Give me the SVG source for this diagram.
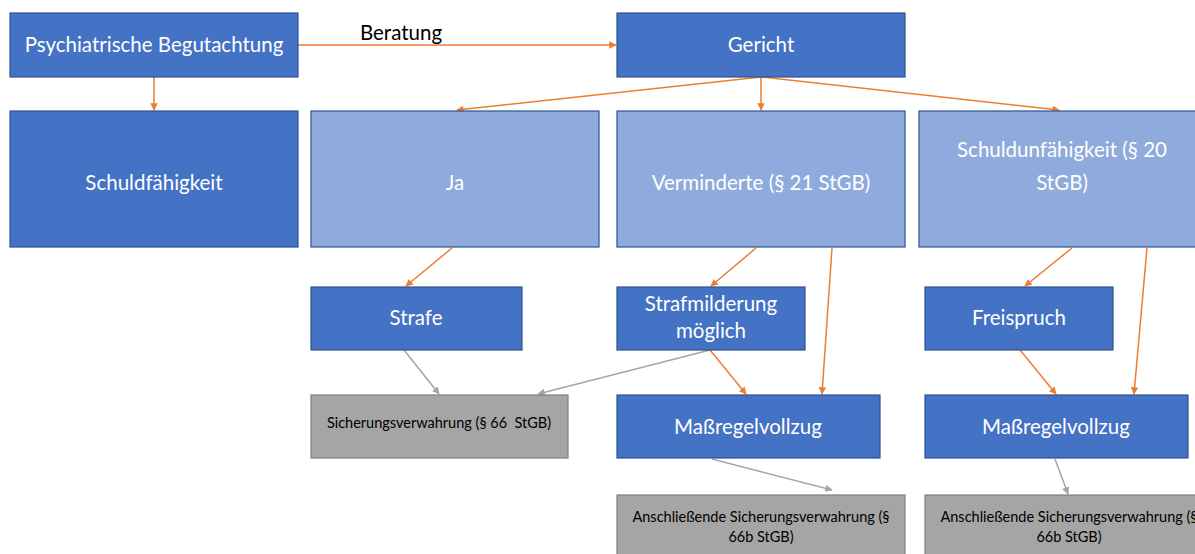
<svg xmlns="http://www.w3.org/2000/svg" width="1195" height="554" viewBox="0 0 1195 554">
<defs>
<style>
.dk{fill:#4472C4;stroke:#2F528F;stroke-width:1.2}
.lt{fill:#8FAADC;stroke:#2F528F;stroke-width:1.2}
.gr{fill:#A5A5A5;stroke:#7F7F7F;stroke-width:1.2}
.t{font-family:Lato,"Open Sans",sans-serif;font-size:20.5px;fill:#FFFFFF;text-anchor:middle}
.s{font-family:Lato,"Open Sans",sans-serif;font-size:14.5px;fill:#000000;text-anchor:middle}
.o{stroke:#ED7D31;stroke-width:1.5;fill:none;marker-end:url(#ao)}
.g{stroke:#A5A5A5;stroke-width:1.5;fill:none;marker-end:url(#ag)}
</style>
<marker id="ao" viewBox="0 0 10 10" refX="9" refY="5" markerWidth="5" markerHeight="5" orient="auto"><path d="M0,0L10,5L0,10z" fill="#ED7D31"/></marker>
<marker id="ag" viewBox="0 0 10 10" refX="9" refY="5" markerWidth="5" markerHeight="5" orient="auto"><path d="M0,0L10,5L0,10z" fill="#A5A5A5"/></marker>
</defs>
<rect width="1195" height="554" fill="#FFFFFF"/>
<g id="connectors">
<line class="o" x1="298" y1="45" x2="616" y2="45"/>
<text x="401" y="40" font-family="Lato,'Open Sans',sans-serif" font-size="20.5" fill="#000" text-anchor="middle">Beratung</text>
<line class="o" x1="154" y1="77" x2="154" y2="110"/>
<line class="o" x1="761" y1="77" x2="457" y2="110"/>
<line class="o" x1="761" y1="77" x2="761" y2="110"/>
<line class="o" x1="761" y1="77" x2="1059" y2="110"/>
<line class="o" x1="452" y1="248" x2="406" y2="286"/>
<line class="o" x1="756" y1="248" x2="711" y2="286"/>
<line class="o" x1="832" y1="248" x2="822" y2="394"/>
<line class="o" x1="1072" y1="248" x2="1025" y2="286"/>
<line class="o" x1="1147" y1="248" x2="1134" y2="394"/>
<line class="o" x1="710" y1="350" x2="746" y2="394"/>
<line class="o" x1="1020" y1="350" x2="1056" y2="394"/>
<line class="g" x1="404" y1="350" x2="439" y2="394"/>
<line class="g" x1="710" y1="350" x2="538" y2="394"/>
<line class="g" x1="712" y1="459" x2="832" y2="490"/>
<line class="g" x1="1055" y1="459" x2="1068" y2="494"/>
</g>
<g id="psych"><rect class="dk" x="10" y="13" width="288" height="64"/><text class="t" x="154" y="52">Psychiatrische Begutachtung</text></g>
<g id="gericht"><rect class="dk" x="617" y="13" width="288" height="64"/><text class="t" x="761" y="52">Gericht</text></g>
<g id="schuldfaehigkeit"><rect class="dk" x="10" y="111" width="288" height="136"/><text class="t" x="154" y="190">Schuldfähigkeit</text></g>
<g id="ja"><rect class="lt" x="311" y="111" width="288" height="136"/><text class="t" x="455" y="190">Ja</text></g>
<g id="verminderte"><rect class="lt" x="617" y="111" width="288" height="136"/><text class="t" x="761" y="190">Verminderte (§ 21 StGB)</text></g>
<g id="schuldunfaehigkeit"><rect class="lt" x="919" y="111" width="288" height="136"/><text class="t" x="1062" y="157">Schuldunfähigkeit (§ 20</text><text class="t" x="1062" y="190">StGB)</text></g>
<g id="strafe"><rect class="dk" x="311" y="287" width="211" height="63"/><text class="t" x="416" y="325">Strafe</text></g>
<g id="strafmilderung"><rect class="dk" x="617" y="287" width="188" height="63"/><text class="t" x="711" y="311">Strafmilderung</text><text class="t" x="711" y="338">möglich</text></g>
<g id="freispruch"><rect class="dk" x="925" y="287" width="188" height="63"/><text class="t" x="1019" y="325">Freispruch</text></g>
<g id="sicherung"><rect class="gr" x="311" y="395" width="257" height="63"/><text class="s" x="439" y="428" xml:space="preserve">Sicherungsverwahrung (§ 66  StGB)</text></g>
<g id="massregel1"><rect class="dk" x="617" y="395" width="263" height="63"/><text class="t" x="748" y="434">Maßregelvollzug</text></g>
<g id="massregel2"><rect class="dk" x="925" y="395" width="263" height="63"/><text class="t" x="1056" y="434">Maßregelvollzug</text></g>
<g id="anschl1"><rect class="gr" x="617" y="495" width="288" height="62"/><text class="s" x="761" y="522">Anschließende Sicherungsverwahrung (§</text><text class="s" x="761" y="542">66b StGB)</text></g>
<g id="anschl2"><rect class="gr" x="925" y="495" width="288" height="62"/><text class="s" x="1069" y="522">Anschließende Sicherungsverwahrung (§</text><text class="s" x="1069" y="542">66b StGB)</text></g>
</svg>
